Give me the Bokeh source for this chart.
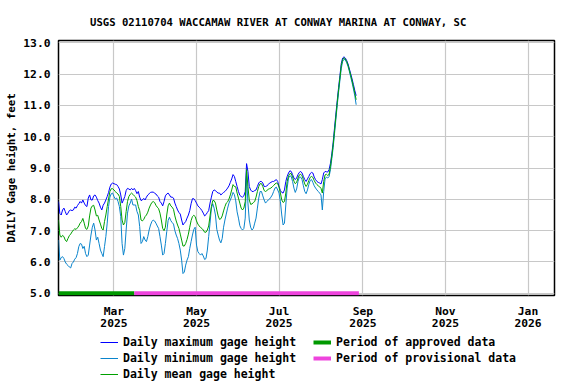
import pandas as pd
from bokeh.plotting import figure
from bokeh.layouts import column
from bokeh.models import (Range1d, FixedTicker, DatetimeTickFormatter, PrintfTickFormatter,
                          Legend, LegendItem)
from bokeh.embed import file_html
from bokeh.resources import INLINE

# ---------------- data ----------------
title_text = "USGS 02110704 WACCAMAW RIVER AT CONWAY MARINA AT CONWAY, SC"
y_label = "DAILY Gage height, feet"
start_date = "2025-01-19"

gage_max = [
    7.93, 7.55, 7.50, 7.66, 7.72, 7.61, 7.50, 7.56, 7.64, 7.66,
    7.64, 7.66, 7.75, 7.72, 7.80, 7.86, 7.93, 7.88, 7.98, 7.88,
    7.80, 7.77, 8.04, 8.14, 7.98, 7.98, 8.11, 8.14, 8.07, 7.96,
    7.88, 7.75, 7.66, 7.81, 7.88, 7.98, 8.09, 8.22, 8.39, 8.49,
    8.52, 8.50, 8.48, 8.47, 8.41, 8.33, 8.14, 7.88, 7.98, 8.09,
    8.28, 8.35, 8.33, 8.30, 8.35, 8.30, 8.35, 8.28, 8.18, 8.25,
    8.07, 7.96, 7.98, 8.03, 7.98, 8.07, 8.14, 8.18, 8.22, 8.23,
    8.23, 8.20, 8.17, 8.11, 8.07, 7.93, 7.88, 7.79, 7.93, 8.11,
    8.17, 8.20, 8.14, 8.07, 8.07, 8.04, 7.88, 7.77, 7.66, 7.58,
    7.53, 7.34, 7.18, 7.24, 7.29, 7.40, 7.50, 7.64, 7.86, 8.02,
    8.02, 7.96, 7.88, 7.79, 7.75, 7.70, 7.64, 7.56, 7.47, 7.51,
    7.58, 7.64, 7.88, 8.07, 8.25, 8.30, 8.28, 8.23, 8.20, 8.20,
    8.14, 8.18, 8.22, 8.25, 8.30, 8.36, 8.43, 8.54, 8.65, 8.79,
    8.73, 8.57, 8.41, 8.25, 8.13, 8.09, 8.07, 8.11, 8.25, 9.14,
    8.89, 8.41, 8.30, 8.25, 8.25, 8.28, 8.30, 8.41, 8.52, 8.57,
    8.57, 8.52, 8.41, 8.41, 8.43, 8.47, 8.52, 8.54, 8.57, 8.57,
    8.60, 8.63, 8.57, 8.41, 8.28, 8.22, 8.20, 8.30, 8.57, 8.73,
    8.84, 8.91, 8.89, 8.79, 8.68, 8.63, 8.68, 8.79, 8.86, 8.89,
    8.84, 8.73, 8.63, 8.57, 8.65, 8.73, 8.82, 8.86, 8.84, 8.71,
    8.63, 8.57, 8.54, 8.52, 8.49, 8.63, 8.84, 8.89, 8.88, 8.87,
    8.95, 9.15, 9.45, 9.82, 10.28, 10.72, 11.15, 11.57, 11.95, 12.34,
    12.51, 12.55, 12.51, 12.43, 12.32, 12.16, 12.00, 11.84, 11.66, 11.47, 11.31,
]

gage_min = [
    6.70, 6.06, 6.14, 6.17, 6.11, 6.00, 5.93, 5.89, 5.84, 5.81,
    5.95, 6.00, 6.09, 6.14, 6.27, 6.49, 6.59, 6.57, 6.43, 6.50,
    6.27, 6.17, 6.22, 6.54, 6.86, 7.11, 7.24, 7.02, 6.70, 6.79,
    6.59, 6.38, 6.27, 6.17, 6.49, 6.81, 7.24, 7.77, 8.07, 8.18,
    8.20, 8.09, 8.01, 8.04, 7.93, 7.77, 7.45, 6.59, 6.22, 6.43,
    7.02, 7.56, 7.79, 7.88, 8.01, 7.82, 7.82, 7.82, 7.61, 7.50,
    7.13, 6.59, 6.65, 6.81, 6.70, 6.65, 6.81, 7.02, 7.18, 7.29,
    7.34, 7.31, 7.24, 7.15, 7.07, 6.81, 6.54, 6.22, 6.27, 6.59,
    6.97, 7.32, 7.43, 7.32, 7.26, 7.21, 7.00, 6.86, 6.75, 6.59,
    6.38, 6.06, 5.63, 5.68, 5.90, 6.06, 6.17, 6.43, 6.65, 6.86,
    7.04, 7.11, 6.54, 6.33, 6.27, 6.22, 6.27, 6.19, 6.08, 6.11,
    6.38, 6.81, 7.24, 7.72, 7.86, 7.72, 7.50, 7.04, 6.86, 6.70,
    6.61, 6.75, 7.11, 7.34, 7.53, 7.72, 7.88, 7.98, 8.09, 8.22,
    8.15, 7.95, 7.60, 7.40, 7.16, 7.07, 7.02, 7.07, 7.40, 8.75,
    7.88, 7.34, 7.11, 7.02, 7.07, 7.24, 7.40, 7.72, 8.04, 8.25,
    8.25, 8.11, 7.98, 7.88, 7.93, 7.98, 8.01, 8.07, 8.14, 8.25,
    8.36, 8.39, 8.30, 8.20, 7.93, 7.50, 7.18, 7.24, 7.82, 8.36,
    8.68, 8.75, 8.73, 8.57, 8.36, 8.22, 8.33, 8.57, 8.71, 8.71,
    8.63, 8.43, 8.25, 8.18, 8.30, 8.47, 8.60, 8.63, 8.54, 8.43,
    8.36, 8.30, 8.25, 8.20, 8.14, 7.66, 8.25, 8.65, 8.71, 8.68,
    8.73, 8.95, 9.30, 9.65, 10.10, 10.55, 11.00, 11.42, 11.80, 12.18,
    12.40, 12.47, 12.45, 12.36, 12.24, 12.08, 11.90, 11.72, 11.52, 11.30, 11.02,
]

gage_mean = [
    7.34, 6.86, 6.79, 6.85, 6.81, 6.70, 6.65, 6.75, 6.84, 6.89,
    6.96, 7.02, 7.06, 7.04, 7.09, 7.15, 7.24, 7.29, 7.39, 7.24,
    7.07, 7.04, 7.15, 7.47, 7.72, 7.79, 7.81, 7.66, 7.47, 7.49,
    7.34, 7.21, 7.07, 7.02, 7.29, 7.50, 7.77, 8.01, 8.25, 8.34,
    8.34, 8.30, 8.25, 8.20, 8.17, 8.09, 7.77, 7.34, 7.18, 7.26,
    7.61, 7.93, 8.09, 8.16, 8.20, 8.16, 8.11, 8.07, 7.96, 7.77,
    7.64, 7.34, 7.31, 7.36, 7.45, 7.50, 7.59, 7.72, 7.82, 7.90,
    7.93, 7.90, 7.81, 7.75, 7.70, 7.56, 7.34, 7.07, 7.00, 7.11,
    7.50, 7.79, 7.88, 7.79, 7.75, 7.68, 7.47, 7.31, 7.18, 7.07,
    6.89, 6.70, 6.51, 6.51, 6.59, 6.72, 6.89, 7.11, 7.32, 7.45,
    7.49, 7.45, 7.31, 7.21, 7.15, 7.10, 7.07, 7.02, 6.95, 6.95,
    7.02, 7.15, 7.47, 7.77, 7.96, 7.96, 7.88, 7.66, 7.47, 7.36,
    7.38, 7.47, 7.63, 7.77, 7.88, 7.92, 8.01, 8.14, 8.30, 8.47,
    8.41, 8.40, 8.20, 8.04, 7.88, 7.72, 7.66, 7.72, 7.93, 8.95,
    8.41, 7.98, 7.84, 7.85, 7.90, 7.93, 8.07, 8.25, 8.41, 8.50,
    8.50, 8.41, 8.28, 8.25, 8.28, 8.32, 8.34, 8.36, 8.40, 8.44,
    8.49, 8.52, 8.50, 8.39, 8.20, 7.98, 7.90, 7.93, 8.20, 8.57,
    8.75, 8.82, 8.82, 8.71, 8.58, 8.50, 8.54, 8.68, 8.78, 8.80,
    8.75, 8.63, 8.49, 8.41, 8.48, 8.60, 8.70, 8.73, 8.70, 8.60,
    8.52, 8.47, 8.43, 8.40, 8.35, 8.20, 8.57, 8.78, 8.80, 8.76,
    8.80, 9.05, 9.38, 9.74, 10.19, 10.63, 11.08, 11.50, 11.88, 12.27,
    12.46, 12.52, 12.48, 12.40, 12.28, 12.12, 11.95, 11.78, 11.59, 11.39, 11.18,
]

approved_period = ["2025-01-19", "2025-03-16"]
provisional_period = ["2025-03-16", "2025-08-29"]

x_tick_dates = ["2025-03-01", "2025-05-01", "2025-07-01", "2025-09-01", "2025-11-01", "2026-01-01"]
y_ticks = [5, 6, 7, 8, 9, 10, 11, 12, 13]
x_window = ["2025-01-19 00:00", "2026-01-20 14:00"]
y_window = [4.93, 13.07]

legend_labels = ["Daily maximum gage height", "Daily minimum gage height", "Daily mean gage height",
                 "Period of approved data", "Period of provisional data"]

# ---------------- styling ----------------
FONT = "DejaVu Sans Mono"
C_MAX = "#0000ff"
C_MIN = "#0a84cc"
C_MEAN = "#00a000"
C_APPR = "#009900"
C_PROV = "#ee44dd"

dates = pd.date_range(start_date, periods=len(gage_max), freq="D")

p = figure(width=576, height=332, x_axis_type="datetime",
           x_range=Range1d(pd.Timestamp(x_window[0]), pd.Timestamp(x_window[1])),
           y_range=Range1d(y_window[0], y_window[1]),
           output_backend="svg", toolbar_location=None,
           min_border_left=58, min_border_right=22, min_border_top=40, min_border_bottom=37)

p.background_fill_color = "white"
p.border_fill_color = "white"
p.outline_line_color = "black"
p.outline_line_width = 1.5

# title
p.title.text = title_text
p.title.align = "left"
p.title.offset = 31.5
p.title.vertical_align = "top"
p.title.standoff = 22
p.title.text_font = FONT
p.title.text_font_style = "bold"
p.title.text_font_size = "10.6px"
p.title.text_color = "black"

# axes
for ax in (p.xaxis[0], p.yaxis[0]):
    ax.axis_line_color = None
    ax.major_tick_line_color = None
    ax.minor_tick_line_color = None
    ax.major_tick_out = 0
    ax.major_tick_in = 0
    ax.minor_tick_out = 0
    ax.minor_tick_in = 0
    ax.major_label_text_font = FONT
    ax.major_label_text_font_style = "bold"
    ax.major_label_text_font_size = "11.3px"
    ax.major_label_text_color = "black"

p.yaxis[0].ticker = FixedTicker(ticks=y_ticks)
p.yaxis[0].formatter = PrintfTickFormatter(format="%.1f")
p.yaxis[0].major_label_standoff = 8
p.yaxis[0].axis_label = y_label
p.yaxis[0].axis_label_text_font = FONT
p.yaxis[0].axis_label_text_font_style = "bold"
p.yaxis[0].axis_label_text_font_size = "10.8px"
p.yaxis[0].axis_label_text_color = "black"
p.yaxis[0].axis_label_standoff = 2

x_tick_ms = [pd.Timestamp(d).value // 10**6 for d in x_tick_dates]
p.xaxis[0].ticker = FixedTicker(ticks=x_tick_ms)
fmt = "%b\n%Y"
p.xaxis[0].formatter = DatetimeTickFormatter(milliseconds=fmt, seconds=fmt, minsec=fmt, minutes=fmt,
                                             hourmin=fmt, hours=fmt, days=fmt, months=fmt, years=fmt)
p.xaxis[0].major_label_standoff = 9
p.xaxis[0].major_label_text_line_height = 0.95

p.xgrid.ticker = FixedTicker(ticks=x_tick_ms)
p.ygrid.ticker = FixedTicker(ticks=y_ticks)
for g in (p.xgrid[0], p.ygrid[0]):
    g.grid_line_color = "#c8c8c8"
    g.grid_line_width = 1.2

# data lines
p.line(dates, gage_max, line_color=C_MAX, line_width=1)
p.line(dates, gage_min, line_color=C_MIN, line_width=1)
p.line(dates, gage_mean, line_color=C_MEAN, line_width=1)

level = y_ticks[0]
p.line([pd.Timestamp(d) for d in approved_period], [level, level], line_color=C_APPR, line_width=4)
p.line([pd.Timestamp(d) for d in provisional_period], [level, level], line_color=C_PROV, line_width=4)

# ---------------- legend panel (separate small figure below the chart) ----------------
lg = figure(width=576, height=52, output_backend="svg", toolbar_location=None,
            x_axis_location=None, y_axis_location=None,
            min_border_left=0, min_border_right=0, min_border_top=0, min_border_bottom=0,
            x_range=Range1d(0, 1), y_range=Range1d(0, 1))
lg.outline_line_color = None
lg.grid.visible = False
lg.background_fill_color = "white"
lg.border_fill_color = "white"

styles = [(C_MAX, 1), (C_MIN, 1), (C_MEAN, 1), (C_APPR, 4), (C_PROV, 4)]
items = []
for lab, (col, lw) in zip(legend_labels, styles):
    # dummy renderers placed outside the visible range; only their legend swatches show
    r = lg.line(x=[5, 6], y=[5, 6], line_color=col, line_width=lw)
    items.append(LegendItem(label=lab, renderers=[r]))

legend = Legend(items=items, location=(42, 2.5), orientation="vertical", nrows=3)
legend.label_text_font = FONT
legend.label_text_font_style = "bold"
legend.label_text_font_size = "11.5px"
legend.label_text_color = "black"
legend.label_standoff = 5
legend.label_width = 190
legend.label_height = 16
legend.glyph_width = 18
legend.glyph_height = 16
legend.spacing = 0
legend.padding = 0
legend.margin = 0
legend.border_line_color = None
legend.background_fill_alpha = 0
lg.add_layout(legend)

open("out.html", "w").write(file_html(column(p, lg, spacing=0), INLINE))
